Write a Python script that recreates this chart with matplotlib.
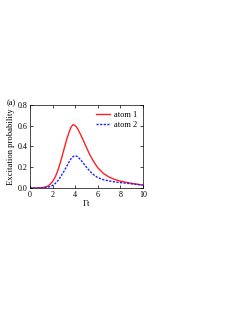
import matplotlib
matplotlib.use('Agg')
import matplotlib.pyplot as plt

# values
t = [0, 0.5, 1, 1.25, 1.5, 1.75, 2, 2.25, 2.5, 2.75, 3, 3.25, 3.5, 3.65, 3.8, 3.95, 4.1, 4.25, 4.5, 4.75,
     5, 5.25, 5.5, 5.75, 6, 6.5, 7, 7.5, 8, 8.5, 9, 9.5, 10]
atom1 = [0, 0.0, 0.003, 0.007, 0.015, 0.032, 0.062, 0.11, 0.18, 0.27, 0.37, 0.47, 0.55, 0.59, 0.61, 0.605, 0.59, 0.565, 0.51, 0.45,
         0.39, 0.33, 0.28, 0.235, 0.195, 0.14, 0.105, 0.082, 0.066, 0.055, 0.045, 0.036, 0.028]
atom2 = [0, 0.0, 0.001, 0.003, 0.006, 0.013, 0.025, 0.045, 0.075, 0.115, 0.16, 0.21, 0.26, 0.285, 0.302, 0.31, 0.308, 0.298, 0.27, 0.235,
         0.2, 0.168, 0.14, 0.118, 0.1, 0.08, 0.068, 0.059, 0.052, 0.046, 0.04, 0.034, 0.028]

plt.rcParams['font.family'] = ['Liberation Serif', 'DejaVu Serif']
plt.rcParams['font.size'] = 5.8

fig = plt.figure(figsize=(2.49, 3.23), dpi=100)
ax = fig.add_axes([30 / 249, 1 - 188 / 323, 113 / 249, 83 / 323])

ax.plot(t, atom1, color='#ff2020', lw=1.0, label='atom 1')
ax.plot(t, atom2, color='#2020ff', lw=1.0, ls=(0, (1.6, 1)), label='atom 2')

ax.set_xlim(0, 10)
ax.set_ylim(0, 0.8)
ax.set_xticks([0, 2, 4, 6, 8, 10])
ax.set_yticks([0.0, 0.2, 0.4, 0.6, 0.8])
ax.tick_params(direction='in', top=True, right=True, length=2, width=0.5, pad=2)
for s in ax.spines.values():
    s.set_linewidth(0.5)
ax.set_xlabel('Γt', labelpad=1, fontsize=6.2)
ax.set_ylabel('Excitation probability', labelpad=2, fontsize=6.2)
ax.legend(loc='upper right', frameon=False, handlelength=1.7, handletextpad=0.5,
          fontsize=6, borderaxespad=0.3, labelspacing=0.3)
fig.text(7 / 249, 1 - 103 / 323, '(a)', fontsize=6, va='center')

fig.savefig('out.png', dpi=100)
